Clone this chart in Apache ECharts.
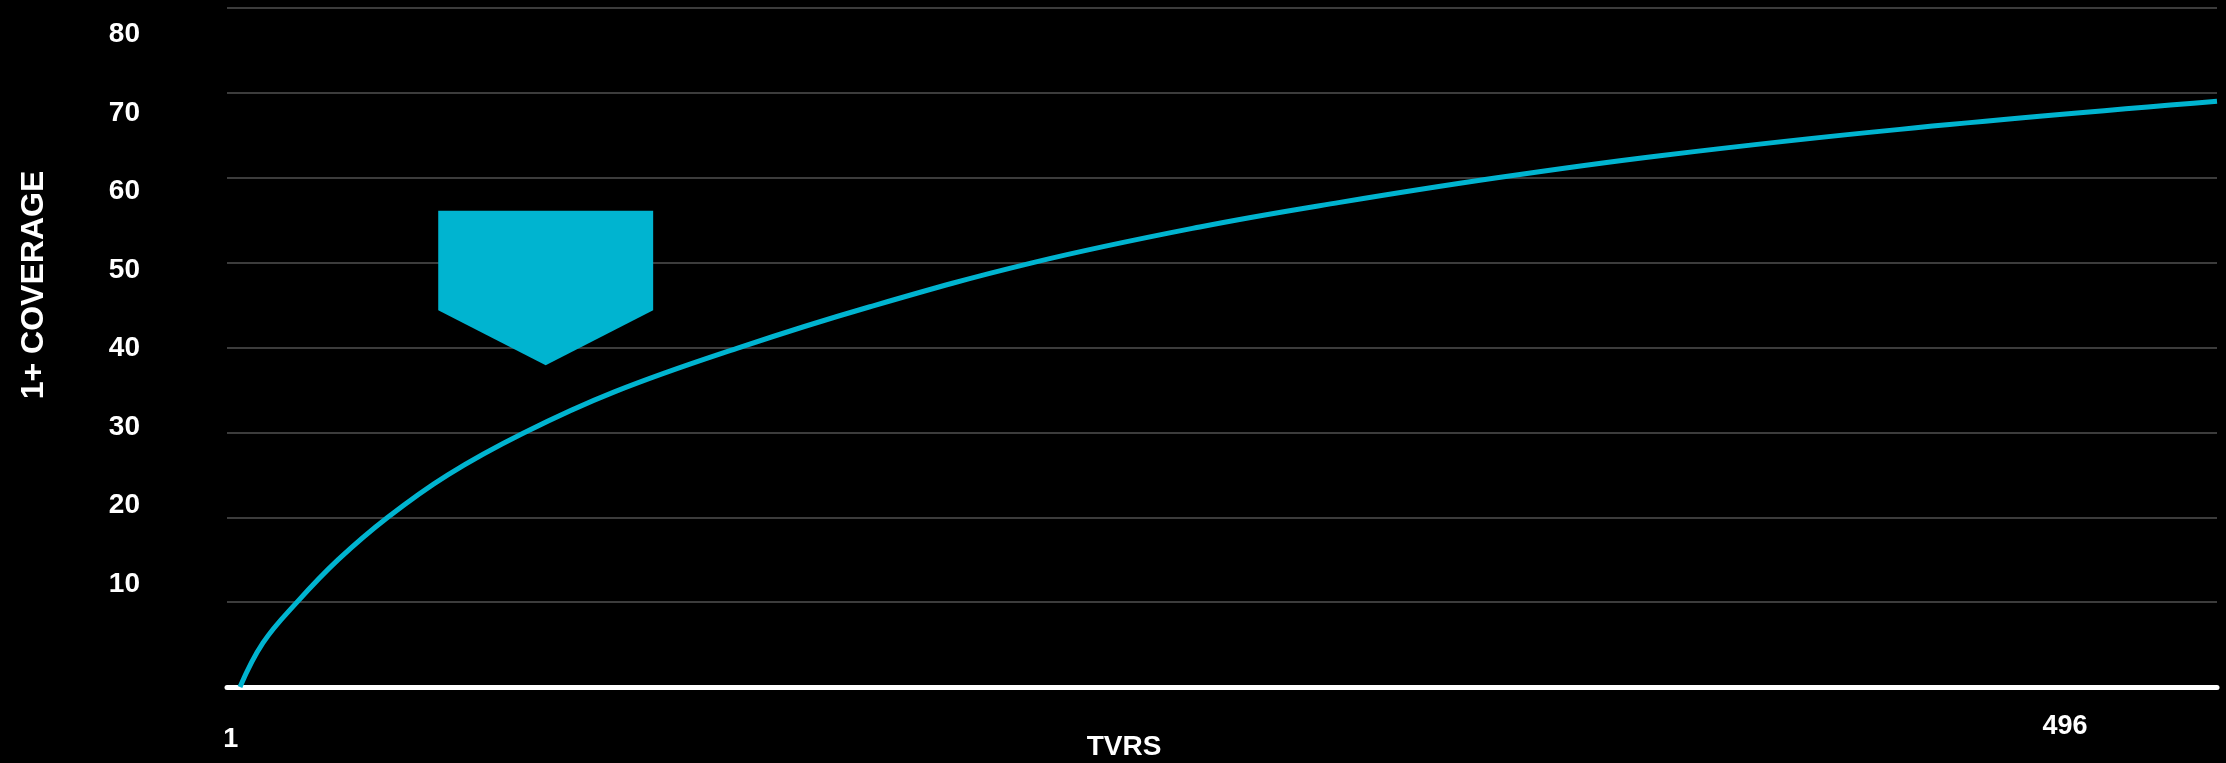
<!DOCTYPE html>
<html>
<head>
<meta charset="utf-8">
<title>1+ Coverage vs TVRs</title>
<script src="https://cdn.jsdelivr.net/npm/echarts@6/dist/echarts.min.js"></script>
<style>
  html, body { margin: 0; padding: 0; background: #000; }
  #main { width: 2226px; height: 763px; }
</style>
</head>
<body>
<div id="main"></div>
<script>
// values
var tvrs = [3.5, 9.7, 18.9, 30, 43.4, 59.6, 79.9, 104.7, 137.6, 173.5, 217.5, 262.5, 300.3, 342.7, 386.7, 451.4, 537];
var coverage = [0, 5.2, 10, 15, 20, 25, 29.9, 34.8, 39.9, 44.8, 50, 54.2, 57.1, 60, 62.6, 65.7, 69];
var yTicks = [10, 20, 30, 40, 50, 60, 70, 80];
var xTicks = [1, 496];
// callout arrow, in data space (tvrs, coverage)
var arrowPoints = [[57, 56.1], [115, 56.1], [115, 44.4], [86, 37.9], [57, 44.4]];

var CYAN = "#00b4d0";
var FONT = "'Liberation Sans', Arial, sans-serif";

var myChart = echarts.init(document.getElementById("main"));

var option = {
  backgroundColor: "#000",
  animation: false,
  grid: { left: 227, right: 9, top: 8, bottom: 76 },
  xAxis: {
    type: "value",
    min: 0,
    max: 537,
    axisLine: { show: true, lineStyle: { color: "#fff", width: 5 } },
    axisTick: { show: false },
    splitLine: { show: false },
    axisLabel: {
      customValues: xTicks,
      margin: 26,
      color: "#fff",
      fontFamily: FONT,
      fontWeight: "bold",
      fontSize: 27,
      formatter: function (v) {
        // the "1" sits a bit lower than "496" in the original
        return v === 1 ? "{low|1}" : "{hi|" + v + "}";
      },
      rich: {
        low: { padding: [13, 0, 0, 0], color: "#fff", fontFamily: FONT, fontWeight: "bold", fontSize: 27 },
        hi: { color: "#fff", fontFamily: FONT, fontWeight: "bold", fontSize: 27 },
      },
    },
  },
  yAxis: [
    {
      // gridlines
      type: "value",
      min: 0,
      max: 80,
      interval: 10,
      axisLine: { show: false },
      axisTick: { show: false },
      axisLabel: { show: false },
      splitLine: { lineStyle: { color: "#3c3c3c", width: 2 } },
    },
    {
      // labels, spaced a little tighter than the gridlines
      type: "value",
      position: "left",
      min: -3.1,
      max: 83.4,
      axisLine: { show: false },
      axisTick: { show: false },
      splitLine: { show: false },
      axisLabel: {
        customValues: yTicks,
        margin: 87,
        color: "#fff",
        fontFamily: FONT,
        fontWeight: "bold",
        fontSize: 28,
      },
    },
  ],
  graphic: [
    {
      type: "text",
      x: 34,
      y: 285,
      rotation: Math.PI / 2,
      style: {
        text: "1+ COVERAGE",
        fill: "#fff",
        font: "bold 32px " + FONT,
        align: "center",
        verticalAlign: "middle",
      },
    },
    {
      type: "text",
      x: 1124,
      y: 747,
      style: {
        text: "TVRS",
        fill: "#fff",
        font: "bold 28px " + FONT,
        align: "center",
        verticalAlign: "middle",
      },
    },
  ],
  series: [
    {
      name: "1+ Coverage",
      type: "line",
      yAxisIndex: 0,
      data: tvrs.map(function (x, i) {
        return [x, coverage[i]];
      }),
      smooth: 0.4,
      showSymbol: false,
      lineStyle: { color: CYAN, width: 5 },
      z: 3,
    },
    {
      name: "arrow",
      type: "custom",
      yAxisIndex: 0,
      data: [[0]],
      renderItem: function (params, api) {
        var pts = arrowPoints.map(function (p) {
          return api.coord(p);
        });
        return {
          type: "polygon",
          shape: { points: pts },
          style: { fill: CYAN },
        };
      },
      z: 4,
    },
  ],
};

myChart.setOption(option);
</script>
</body>
</html>
